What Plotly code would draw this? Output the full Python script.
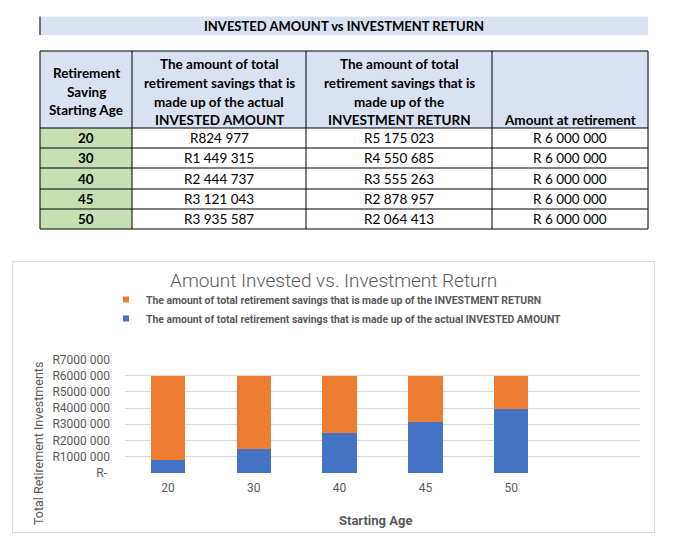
import plotly.graph_objects as go

# ---------------- data ----------------
ages = ["20", "30", "40", "45", "50"]
invested = [824977, 1449315, 2444737, 3121043, 3935587]
returns = [5175023, 4550685, 3555263, 2878957, 2064413]
totals = [6000000, 6000000, 6000000, 6000000, 6000000]

table_title = "INVESTED AMOUNT vs INVESTMENT RETURN"
header_col1 = ["Retirement", "Saving", "Starting Age"]
header_col2 = ["The amount of total", "retirement savings that is", "made up of the actual", "INVESTED AMOUNT"]
header_col3 = ["The amount of total", "retirement savings that is", "made up of the", "INVESTMENT RETURN"]
header_col4 = ["Amount at retirement"]

chart_title = "Amount Invested vs. Investment Return"
name_return = "The amount of total retirement savings that is made up of the INVESTMENT RETURN"
name_invested = "The amount of total retirement savings that is made up of the actual INVESTED AMOUNT"
y_title = "Total Retirement Investments"
x_title = "Starting Age"
y_tick_vals = [0, 1000000, 2000000, 3000000, 4000000, 5000000, 6000000, 7000000]
y_tick_text = ["R-\u00a0", "R1000 000", "R2000 000", "R3000 000", "R4000 000",
               "R5000 000", "R6000 000", "R7000 000"]

# ---------------- helpers ----------------
W, H = 688, 539


def fx(x):
    return x / W


def fy(y):
    return 1 - y / H


def money(v, space=False):
    s = f"{v:,}".replace(",", " ")
    return ("R " if space else "R") + s


BLUE = "#4472C4"
ORANGE = "#ED7D31"
HDR = "#D9E1F2"
GREEN = "#C6E0B4"
GRAY = "#595959"
TFONT = "Lato"
CFONT = "Roboto"

fig = go.Figure()

# bars
fig.add_trace(go.Bar(x=ages, y=invested, marker=dict(color=BLUE, line=dict(width=0)),
                     width=0.4, name=name_invested, showlegend=False, hoverinfo="skip"))
fig.add_trace(go.Bar(x=ages, y=returns, marker=dict(color=ORANGE, line=dict(width=0)),
                     width=0.4, name=name_return, showlegend=False, hoverinfo="skip"))

# legend proxies (small squares)
fig.add_trace(go.Scatter(x=[None], y=[None], mode="markers",
                         marker=dict(symbol="square", size=6, color=ORANGE),
                         name="<b>" + name_return + "</b>", legendrank=1))
fig.add_trace(go.Scatter(x=[None], y=[None], mode="markers",
                         marker=dict(symbol="square", size=6, color=BLUE),
                         name="<b>" + name_invested + "</b>", legendrank=2))

shapes = []
annotations = []

# ---------------- table ----------------
col_edges = [40, 132, 306, 492, 648]
tbl_top = 51
row_edges = [128, 148, 168, 189, 209, 229]

# title band
shapes.append(dict(type="rect", xref="paper", yref="paper", x0=fx(40), x1=fx(648),
                   y0=fy(35), y1=fy(16.5), fillcolor=HDR, line=dict(width=0), layer="below"))
shapes.append(dict(type="line", xref="paper", yref="paper", x0=fx(40), x1=fx(40),
                   y0=fy(35), y1=fy(16.5), line=dict(color="#222", width=1.2)))
annotations.append(dict(text="<b>" + table_title + "</b>", x=fx(344), y=fy(26), xref="paper",
                        yref="paper", showarrow=False, xanchor="center", yanchor="middle",
                        font=dict(family=TFONT, size=13, color="#000")))

# header fill
shapes.append(dict(type="rect", xref="paper", yref="paper", x0=fx(40), x1=fx(648),
                   y0=fy(row_edges[0]), y1=fy(tbl_top), fillcolor=HDR, line=dict(width=0),
                   layer="below"))
# green age column
shapes.append(dict(type="rect", xref="paper", yref="paper", x0=fx(40), x1=fx(col_edges[1]),
                   y0=fy(row_edges[-1]), y1=fy(row_edges[0]), fillcolor=GREEN,
                   line=dict(width=0), layer="below"))
# grid lines
for ye in [tbl_top] + row_edges:
    shapes.append(dict(type="line", xref="paper", yref="paper", x0=fx(40), x1=fx(648),
                       y0=fy(ye), y1=fy(ye), line=dict(color="#000", width=1)))
for xe in col_edges:
    shapes.append(dict(type="line", xref="paper", yref="paper", x0=fx(xe), x1=fx(xe),
                       y0=fy(tbl_top), y1=fy(row_edges[-1]), line=dict(color="#000", width=1)))

# header text
hdr_lines = [(header_col1, [73, 92, 110]),
             (header_col2, [64, 83, 102, 120]),
             (header_col3, [64, 83, 102, 120]),
             (header_col4, [120])]
for ci, (lines, ys) in enumerate(hdr_lines):
    cx = (col_edges[ci] + col_edges[ci + 1]) / 2
    for line, yy in zip(lines, ys):
        annotations.append(dict(text="<b>" + line + "</b>", x=fx(cx), y=fy(yy), xref="paper",
                                yref="paper", showarrow=False, xanchor="center",
                                yanchor="middle",
                                font=dict(family=TFONT, size=13.5, color="#000")))

# body text
for ri in range(len(ages)):
    cy = (row_edges[ri] + row_edges[ri + 1]) / 2
    cells = ["<b>" + ages[ri] + "</b>", money(invested[ri]), money(returns[ri]),
             money(totals[ri], space=True)]
    for ci, txt in enumerate(cells):
        cx = (col_edges[ci] + col_edges[ci + 1]) / 2
        annotations.append(dict(text=txt, x=fx(cx), y=fy(cy), xref="paper", yref="paper",
                                showarrow=False, xanchor="center", yanchor="middle",
                                font=dict(family=TFONT, size=13.5, color="#000")))

# ---------------- chart ----------------
shapes.append(dict(type="rect", xref="paper", yref="paper", x0=fx(12.5), x1=fx(654.5),
                   y0=fy(532.5), y1=fy(261.5), line=dict(color="#D9D9D9", width=1),
                   fillcolor="rgba(0,0,0,0)", layer="below"))

annotations.append(dict(text=chart_title, x=fx(333), y=fy(280), xref="paper", yref="paper",
                        showarrow=False, xanchor="center", yanchor="middle",
                        font=dict(family=CFONT, size=19, color=GRAY, weight=300)))
annotations.append(dict(text=y_title, x=fx(38), y=fy(444), xref="paper", yref="paper",
                        showarrow=False, xanchor="center", yanchor="middle", textangle=-90,
                        font=dict(family=CFONT, size=12.5, color=GRAY)))
annotations.append(dict(text="<b>" + x_title + "</b>", x=fx(375), y=fy(520), xref="paper",
                        yref="paper", showarrow=False, xanchor="center", yanchor="middle",
                        font=dict(family=CFONT, size=13, color=GRAY)))

plot_left, plot_right = 125, 640
plot_top, plot_bottom = 359.3, 473

fig.update_layout(
    width=W, height=H, autosize=False,
    margin=dict(l=0, r=0, t=0, b=0, pad=0, autoexpand=False),
    paper_bgcolor="white", plot_bgcolor="white",
    barmode="stack", bargap=0.6,
    shapes=shapes, annotations=annotations,
    showlegend=True,
    legend=dict(x=fx(106), xanchor="left", y=fy(285), yanchor="top",
                orientation="v", traceorder="normal",
                font=dict(family=CFONT, size=10.4, color=GRAY),
                bgcolor="rgba(0,0,0,0)", borderwidth=0, itemclick=False,
                itemdoubleclick=False, tracegroupgap=0),
    xaxis=dict(domain=[fx(plot_left), fx(plot_right)], type="category",
               categoryorder="array", categoryarray=ages, range=[-0.5, 5.5],
               showgrid=False, showline=False, zeroline=False, ticks="",
               tickfont=dict(family=CFONT, size=12, color=GRAY),
               ticklabelstandoff=6, fixedrange=True),
    yaxis=dict(domain=[fy(plot_bottom), fy(plot_top)], range=[0, 7000000],
               tickmode="array", tickvals=y_tick_vals, ticktext=y_tick_text,
               showgrid=True, gridcolor="#D9D9D9", gridwidth=1, zeroline=False,
               showline=False, ticks="",
               tickfont=dict(family=CFONT, size=12, color=GRAY),
               ticklabelstandoff=14, fixedrange=True),
)

fig.write_html("out.html")
